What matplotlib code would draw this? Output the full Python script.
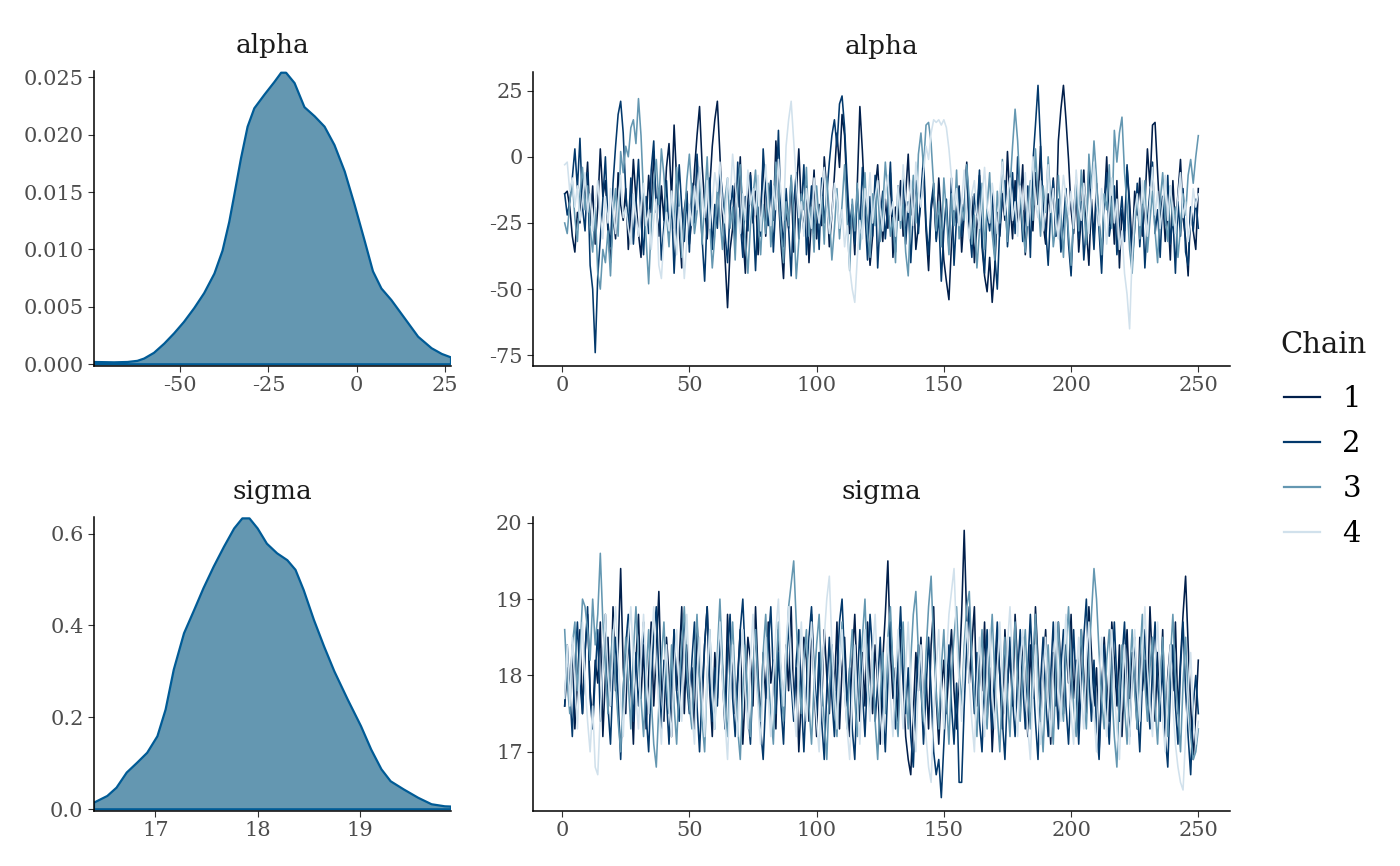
import matplotlib
matplotlib.use("Agg")
import matplotlib.pyplot as plt
from matplotlib.lines import Line2D
import numpy as np

# ---------------- data ----------------
chain_labels = ["1", "2", "3", "4"]
chain_colors = ["#011f4b", "#03396c", "#6497b1", "#d1e1ec"]

# density of alpha (x, density)
alpha_dens_x = [-74.4, -68.7, -64.9, -62.1, -60.2, -57.4, -54.5, -51.7, -48.9, -46.0,
                -43.2, -40.3, -38.0, -36.1, -34.7, -32.8, -30.9, -29.0, -26.1, -23.3,
                -21.4, -20.0, -17.6, -14.8, -11.9, -9.1, -6.3, -3.4, -0.6, 2.3,
                4.6, 7.0, 9.8, 13.6, 17.4, 21.2, 24.1, 26.7]
alpha_dens_y = [0.0002, 0.00017, 0.0002, 0.0003, 0.0005, 0.0010, 0.0018, 0.0027, 0.0037, 0.0049,
                0.0062, 0.0079, 0.0099, 0.0124, 0.0147, 0.0179, 0.0207, 0.0223, 0.0235, 0.0246,
                0.0254, 0.0254, 0.0245, 0.0224, 0.0216, 0.0207, 0.0191, 0.0168, 0.0139, 0.0107,
                0.0081, 0.0066, 0.0056, 0.0040, 0.0024, 0.0014, 0.0009, 0.0006]

sigma_dens_x = [16.40, 16.53, 16.62, 16.72, 16.82, 16.92, 17.02, 17.10, 17.18, 17.28,
                17.38, 17.47, 17.57, 17.67, 17.77, 17.85, 17.92, 18.00, 18.09, 18.19,
                18.29, 18.37, 18.45, 18.55, 18.65, 18.75, 18.88, 19.01, 19.11, 19.21,
                19.30, 19.43, 19.57, 19.70, 19.83, 19.89]
sigma_dens_y = [0.0145, 0.029, 0.047, 0.080, 0.101, 0.123, 0.159, 0.217, 0.304, 0.383,
                0.434, 0.481, 0.528, 0.571, 0.611, 0.633, 0.633, 0.611, 0.578, 0.557,
                0.542, 0.521, 0.477, 0.412, 0.354, 0.300, 0.239, 0.181, 0.130, 0.087,
                0.061, 0.043, 0.025, 0.011, 0.0065, 0.006]

alpha_chain1 = [
    -14, -13, -19, -30, -36, -21, -25, -8, -17, -2, -26, -11, -33, -19, 3, -15, -9, -28, -40, -22, -31, -6, -18, -24, -12,
    -35, -20, -1, -16, -29, -38, -14, -25, -7, -21, 2, -19, -30, -11, -24, -4, 5, -16, 12, -9, -27, -42, -20, -13, -33,
    -23, -5, 8, 19, -3, -18, -31, -12, 4, 14, 21, 1, -22, -38, -57, -35, -27, -10, -19, 0, -29, -44, -16, -6, -25,
    -13, -37, -21, -2, -30, -17, -9, -24, 6, -15, -33, -46, -20, -27, -8, -36, -14, 3, -19, -28, -11, -40, -23, -5, -31,
    -18, -26, 0, -13, -34, -22, -7, 9, -4, 16, 8, -15, -29, -20, -37, -10, 19, 2, -18, -25, -41, -30, -12, -3, -21,
    -32, -16, -27, -6, -38, -19, -24, -9, -30, -14, 1, -22, -11, -35, -26, -17, -4, -28, -43, -20, -13, -31, -8, -23, -39,
    -47, -54, -33, -18, -25, -11, -36, -22, -2, -29, -15, -40, -26, -7, -34, -45, -51, -38, -55, -42, -21, -30, -14, -24, 2,
    -17, -31, -9, -26, -19, -3, -37, -22, -12, -28, -6, -18, 4, -25, -33, -14, -21, -8, -30, 6, 18, 27, 14, -1, -20,
    -29, -12, -36, -23, -5, -27, -41, -16, -31, -10, -24, -38, -19, 0, -26, -15, -33, -9, -42, -20, -28, -4, -17, -35, -13,
    -22, -8, -30, -18, 3, -11, 12, 13, -6, -24, -15, -32, -20, -39, -9, -27, -14, -1, -23, -31, -45, -19, -28, -35, -12]

alpha_chain2 = [
    -14, -22, -17, -8, 3, -12, 7, -19, -28, -6, -41, -50, -74, -45, -31, -16, 0, -25, -34, -10, 4, 16, 21, 9, -13,
    -27, -8, -33, -18, -1, -24, -37, -15, -29, -5, 6, -21, -12, -39, -26, -9, -30, -17, -44, -23, -3, -19, -32, -14, -36,
    -10, -25, 1, -16, -31, -47, -22, -8, -35, -18, -27, -4, -14, -29, -40, -20, -11, -33, -2, -24, -38, -15, -28, -7, -21,
    -43, -19, -30, 3, -13, -26, -9, -36, -17, 10, -22, -34, -12, -27, -45, -18, -6, -31, -20, -3, -37, -24, -11, -29, -16,
    -35, -8, -25, -14, -2, 8, 14, 4, 20, 23, 11, -9, -26, -18, -33, -12, -28, -4, -21, -39, -15, -30, -7, -42, -23,
    -13, -31, -19, -2, -27, -36, -11, -24, -6, -33, -17, -40, -21, -9, -29, -14, 0, -25, -37, -18, -10, -32, -22, -47, -28,
    -16, -35, -8, -41, -23, -12, -30, -19, -3, -26, -38, -14, -22, -5, -31, -44, -20, -28, -13, -37, -50, -26, -17, -9, -34,
    -21, -6, -29, 0, -15, -32, -24, -11, -38, -2, 12, 27, 5, -18, -27, -41, -20, -9, -30, -16, -36, -25, -12, -33, -45,
    -22, -8, -31, -17, -39, -26, -4, -20, -35, -14, -28, -44, -19, -6, -30, -23, -11, -37, -25, -15, -32, -3, -21, -40, -27,
    -10, -34, -18, -42, -24, -13, -2, -29, -20, -38, -15, -26, -7, -33, -22, -44, -17, -30, -12, -36, -41, -19, -28, -16, -27]

alpha_chain3 = [
    -25, -29, -17, -9, -23, -32, -14, -4, -20, -11, -27, -36, -19, -44, -50, -35, -40, -28, -45, -22, -12, -30, 2, -6, 4,
    0, 11, 14, 5, 22, 8, -15, -31, -48, -26, -10, -1, -18, 3, -7, -22, -34, -13, -27, -4, -19, -38, -24, -9, 1,
    -14, -29, -21, -6, -33, -17, 0, -25, -42, -30, -11, -23, -35, -16, -8, -27, -19, -39, -12, -3, -20, -31, -44, -26, -15,
    -5, -24, -37, -18, -29, -10, -34, -21, -2, -13, -28, -40, -17, -26, -7, -23, -46, -32, -14, -20, -4, -30, -19, -36, -11,
    -25, -15, -33, -8, -22, -39, -27, -12, -31, -18, -3, -24, -43, -16, -28, -10, -35, -21, -6, -29, -38, -14, -26, -9, -32,
    -19, -2, -15, -30, -23, -40, -12, -27, -18, -36, -45, -20, -7, -25, 1, 9, -4, 12, 13, 5, -11, -28, -17, -34, -8,
    -21, -37, -14, -26, -5, -31, -18, -24, -3, -16, -33, -22, -42, -28, -10, -35, -19, -6, -29, -39, -13, -25, -1, -18, -32,
    -12, 4, 18, 6, -14, -27, -36, -20, -9, -24, 3, -15, -30, -11, -21, 0, -17, -34, -26, -7, -22, -38, -16, -29, -41,
    -23, -10, -28, -5, -19, -33, 1, -12, 6, -8, -25, -37, -14, -20, -3, -27, 10, -2, 9, 15, -6, -18, -35, -44, -26,
    -15, -31, -21, -9, -36, -24, -13, -28, -40, -17, -6, -23, -32, -11, -26, -19, -38, -27, -14, -22, -7, -1, -10, 0, 8]

alpha_chain4 = [
    -3, -2, -13, -8, -19, -11, -24, -16, -6, -21, -14, -28, -18, -9, -22, -31, -15, -25, -12, -20, -29, -17, -7, -23, -19,
    -27, -33, -14, -22, -30, -18, -10, -26, -20, -35, -24, -16, -41, -46, -30, -21, -28, -13, -25, -37, -19, -29, -46, -32, -18,
    -26, -11, -20, -4, -15, -23, -9, -27, -17, -6, -13, -2, -19, -25, -8, -16, 1, -10, -21, -29, -14, -24, -5, -18, -12,
    -22, -7, -28, -15, -3, -19, -26, -11, -20, -1, -14, -24, 4, 14, 21, 6, -9, -23, -17, -30, -12, -21, -27, -8, -19,
    -25, -13, -4, -18, -29, -22, -10, -16, -27, -20, -34, -26, -42, -50, -55, -38, -24, -31, -12, -19, -6, -25, -15, -9, -20,
    -28, -14, -7, -22, -17, -30, -11, -24, -3, -16, -21, -9, -26, -2, -13, -19, -6, 4, -1, 9, 14, 13, 14, 12, 14,
    11, 3, -8, -20, -12, -26, -17, -5, -23, -31, -14, -9, -21, -27, -16, -4, -19, -25, -10, -18, -29, -13, -2, -22, -15,
    -8, -24, -17, -30, -11, -20, -6, -26, -14, 0, -18, -23, -9, -28, -16, -3, -21, -12, -25, -31, -19, -7, -15, -22, -13,
    -27, -5, -18, -24, -10, -20, -29, -14, -2, -17, -26, -12, -22, -33, -19, -8, -25, -16, -35, -28, -44, -52, -65, -37, -21,
    -14, -26, -9, -19, -30, -16, -4, -22, -13, -27, -18, -7, -24, -11, -20, -29, -15, -6, -23, -17, -32, -25, -12, -19, -14]

sigma_chain1 = [
    17.6, 18.1, 17.7, 18.4, 17.3, 17.9, 18.6, 17.5, 18.3, 18.8, 17.8, 17.4, 18.2, 17.9, 18.7, 17.2, 18.0, 18.5, 17.6, 18.9, 17.8, 18.3, 19.4, 18.1, 17.5,
    18.6, 17.9, 17.1, 18.2, 18.8, 17.7, 18.4, 17.3, 18.0, 18.7, 17.6, 18.3, 19.1, 17.9, 17.4, 18.5, 18.0, 17.2, 18.6, 17.8, 18.2, 18.9, 17.5, 18.4, 17.7,
    18.1, 17.3, 18.7, 18.0, 17.6, 18.4, 18.9, 17.8, 17.2, 18.3, 17.7, 18.6, 18.1, 17.4, 18.8, 17.9, 18.3, 17.5, 18.0, 18.6, 17.1, 17.8, 18.5, 18.2, 17.6,
    18.9, 18.0, 17.4, 18.3, 17.7, 18.7, 17.9, 18.2, 17.3, 18.6, 18.0, 17.5, 18.4, 17.8, 18.9, 17.6, 18.1, 17.0, 17.7, 18.5, 18.2, 17.4, 18.8, 17.9, 17.2,
    18.3, 17.6, 18.6, 18.0, 17.5, 18.4, 17.8, 18.7, 17.3, 18.1, 18.5, 17.7, 17.2, 18.2, 18.8, 17.9, 17.4, 18.3, 17.6, 18.7, 18.0, 17.5, 18.4, 17.9, 17.1,
    18.2, 18.8, 19.5, 18.3, 17.7, 18.1, 17.4, 18.6, 17.9, 17.2, 16.9, 16.7, 17.5, 18.3, 17.8, 18.5, 17.6, 18.0, 17.3, 18.4, 18.9, 17.7, 17.1, 17.8, 18.2,
    17.5, 18.1, 18.6, 17.8, 17.3, 18.0, 18.8, 19.9, 18.7, 17.9, 18.4, 18.9, 17.6, 18.3, 17.8, 18.7, 17.4, 18.1, 17.0, 17.7, 18.5, 18.0, 17.3, 18.6, 17.9,
    18.3, 17.6, 18.8, 18.1, 17.5, 18.5, 17.9, 17.2, 18.4, 17.7, 18.9, 18.2, 17.4, 18.0, 18.6, 17.8, 17.1, 18.3, 17.6, 18.7, 18.1, 17.5, 18.4, 17.9, 18.8,
    17.7, 18.2, 17.3, 18.6, 18.0, 17.5, 18.9, 18.3, 17.6, 18.1, 17.0, 17.8, 18.5, 17.9, 17.4, 18.7, 18.2, 17.6, 18.4, 17.2, 18.0, 18.6, 17.7, 18.3, 17.9,
    17.3, 18.5, 17.8, 18.2, 17.6, 18.9, 18.1, 17.4, 18.3, 17.7, 18.6, 17.2, 18.0, 18.4, 17.8, 18.7, 17.5, 18.2, 18.8, 19.3, 18.4, 17.6, 16.9, 17.5, 18.2]

sigma_chain2 = [
    17.6, 18.4, 17.8, 17.2, 18.1, 18.7, 17.9, 17.5, 18.3, 18.9, 17.7, 17.3, 18.0, 18.6, 17.4, 18.2, 18.8, 17.6, 17.1, 18.0, 18.5, 17.7, 16.9, 17.8, 18.4,
    18.8, 17.9, 17.4, 18.3, 17.6, 18.1, 18.7, 17.5, 17.0, 17.9, 18.5, 18.9, 18.0, 17.3, 18.2, 17.7, 17.1, 18.0, 18.6, 17.8, 17.4, 18.3, 18.8, 17.9, 17.5,
    18.2, 18.7, 17.6, 17.0, 17.8, 18.4, 18.9, 17.9, 17.4, 18.1, 17.6, 18.5, 18.0, 17.3, 18.3, 18.8, 17.7, 17.2, 17.9, 18.6, 19.0, 18.2, 17.5, 17.1, 18.0,
    18.6, 17.8, 17.3, 16.9, 17.7, 18.4, 18.9, 18.0, 17.5, 18.3, 17.6, 17.1, 18.1, 18.7, 17.9, 17.4, 18.2, 18.6, 17.7, 17.0, 17.8, 18.5, 18.9, 18.1, 17.5,
    18.3, 17.4, 16.9, 17.8, 18.5, 17.7, 17.2, 18.0, 18.7, 19.0, 18.2, 17.6, 18.1, 17.3, 16.9, 17.9, 18.6, 17.8, 17.2, 18.0, 18.8, 18.3, 17.4, 17.9, 18.5,
    17.6, 17.0, 17.9, 18.7, 18.1, 17.3, 18.2, 18.9, 18.0, 17.5, 18.1, 17.2, 16.8, 17.7, 18.4, 17.9, 17.1, 17.8, 18.5, 17.8, 17.0, 16.7, 16.9, 16.4, 17.1,
    17.8, 18.4, 17.6, 17.1, 17.9, 16.6, 16.6, 17.6, 18.4, 18.9, 18.1, 17.5, 18.3, 17.4, 17.0, 17.9, 18.6, 17.8, 17.3, 18.1, 18.7, 18.0, 17.4, 16.9, 17.8,
    18.5, 17.7, 17.2, 18.0, 18.6, 17.9, 17.3, 18.1, 18.8, 18.0, 17.4, 16.9, 17.9, 18.5, 17.7, 17.2, 18.0, 18.7, 17.9, 17.3, 18.1, 18.6, 17.6, 17.1, 17.9,
    18.6, 17.8, 17.1, 17.9, 18.5, 19.0, 18.0, 17.4, 18.2, 17.3, 16.9, 17.8, 18.4, 17.6, 17.1, 18.0, 18.7, 17.9, 17.4, 18.2, 18.7, 17.7, 17.2, 18.0, 18.5,
    17.6, 17.0, 17.9, 18.6, 17.8, 17.3, 18.1, 18.7, 17.9, 17.4, 18.2, 17.2, 16.8, 17.8, 18.4, 17.6, 17.1, 18.1, 18.7, 17.8, 17.2, 16.7, 17.6, 18.0, 17.5]

sigma_chain3 = [
    18.6, 17.9, 17.5, 18.4, 18.7, 17.8, 18.3, 19.0, 18.9, 18.6, 18.2, 19.0, 18.4, 18.8, 19.6, 18.7, 18.1, 17.5, 18.2, 18.6, 17.9, 17.4, 17.0, 17.8, 18.5,
    17.9, 17.3, 18.3, 18.9, 18.2, 17.7, 17.2, 18.0, 18.6, 17.7, 17.1, 16.8, 17.6, 18.2, 18.7, 17.9, 17.5, 18.4, 17.6, 17.1, 17.9, 18.4, 18.9, 18.1, 17.6,
    17.3, 18.2, 18.8, 17.9, 17.4, 17.0, 18.0, 18.6, 17.8, 17.3, 18.3, 19.0, 18.2, 17.6, 17.2, 18.1, 18.7, 17.9, 17.3, 16.9, 17.8, 18.4, 17.6, 17.2, 18.1,
    18.6, 17.8, 17.4, 18.3, 18.8, 18.0, 17.5, 17.1, 18.0, 18.7, 17.9, 17.4, 18.2, 18.9, 19.2, 19.5, 18.7, 18.0, 17.5, 18.2, 18.6, 17.6, 17.1, 17.9, 18.4,
    18.8, 17.9, 17.4, 16.9, 17.8, 18.4, 17.6, 17.2, 18.1, 18.7, 17.8, 17.3, 18.1, 18.6, 17.7, 17.2, 18.0, 18.5, 19.0, 18.0, 17.5, 18.3, 17.4, 16.9, 17.7,
    18.3, 17.5, 18.5, 18.9, 18.1, 17.6, 17.2, 18.1, 18.7, 17.8, 17.3, 18.2, 18.8, 19.1, 18.3, 17.8, 17.4, 18.3, 18.9, 19.3, 18.4, 17.8, 17.3, 18.1, 18.6,
    17.7, 17.1, 18.0, 18.5, 18.9, 18.1, 17.6, 18.4, 18.9, 19.1, 18.2, 17.7, 17.2, 18.0, 18.6, 17.8, 17.3, 18.2, 18.8, 18.0, 17.5, 17.0, 17.9, 18.5, 17.7,
    17.2, 18.1, 18.7, 17.9, 17.4, 18.1, 18.6, 17.8, 17.3, 18.2, 18.8, 18.0, 17.5, 17.0, 17.8, 18.4, 17.6, 17.1, 18.0, 18.7, 17.8, 17.4, 18.3, 18.9, 18.1,
    17.6, 17.2, 18.1, 18.6, 17.8, 17.3, 18.2, 18.8, 19.4, 19.0, 18.3, 17.7, 17.3, 18.2, 18.6, 17.8, 17.2, 16.8, 17.8, 18.4, 17.6, 17.1, 18.0, 18.6, 17.8,
    17.3, 18.2, 18.8, 17.9, 17.4, 18.1, 18.5, 17.6, 17.1, 17.9, 18.5, 17.7, 17.2, 18.2, 18.8, 18.0, 17.5, 17.0, 17.9, 18.5, 17.7, 17.2, 16.9, 17.0, 17.3]

sigma_chain4 = [
    17.7, 18.4, 17.6, 18.5, 17.9, 17.3, 18.1, 18.7, 17.9, 17.4, 17.0, 17.6, 16.8, 16.7, 17.5, 18.2, 18.8, 18.0, 17.6, 18.5, 18.9, 18.2, 17.7, 17.2, 18.0,
    18.5, 18.9, 18.2, 17.7, 17.3, 18.2, 18.8, 18.0, 17.5, 18.3, 18.9, 18.1, 17.6, 17.1, 17.9, 18.4, 17.6, 17.2, 18.1, 18.6, 17.8, 17.4, 18.3, 18.8, 18.0,
    17.5, 17.1, 18.0, 18.5, 17.7, 17.2, 18.0, 18.6, 17.8, 17.3, 18.1, 18.7, 17.9, 17.4, 16.9, 17.8, 18.4, 17.6, 17.2, 18.1, 18.6, 17.8, 17.3, 18.2, 18.8,
    18.0, 17.6, 17.1, 17.9, 18.5, 17.7, 17.2, 18.0, 18.6, 19.0, 18.1, 17.6, 18.4, 18.9, 18.1, 17.6, 17.2, 18.1, 18.7, 17.9, 17.4, 18.2, 18.7, 17.9, 17.4,
    17.0, 17.9, 18.5, 19.0, 19.3, 18.4, 17.8, 17.3, 18.1, 18.6, 17.8, 17.3, 16.9, 17.8, 18.4, 17.6, 17.1, 18.0, 18.6, 17.8, 17.4, 18.3, 18.8, 18.0, 17.5,
    17.1, 18.0, 18.5, 17.7, 17.2, 18.0, 18.6, 17.8, 17.3, 18.1, 18.7, 17.9, 17.4, 17.0, 17.9, 18.4, 17.6, 17.2, 16.8, 16.6, 17.5, 18.1, 18.6, 17.8, 17.3,
    18.2, 18.8, 19.1, 19.4, 18.5, 17.9, 17.4, 18.2, 18.7, 17.9, 17.4, 17.0, 17.9, 18.5, 17.7, 17.2, 18.0, 18.6, 17.8, 17.3, 18.1, 18.7, 17.9, 17.5, 18.4,
    18.9, 18.1, 17.6, 17.2, 18.1, 18.6, 17.8, 17.3, 16.9, 17.8, 18.4, 17.6, 17.1, 18.0, 18.5, 17.7, 17.2, 18.1, 18.7, 17.9, 17.4, 18.2, 18.8, 18.0, 17.5,
    17.1, 18.0, 18.5, 17.7, 17.3, 18.2, 18.7, 17.9, 17.5, 17.0, 17.9, 18.5, 17.7, 17.2, 18.0, 18.6, 17.8, 17.3, 16.9, 17.8, 18.4, 17.6, 17.1, 18.0, 18.6,
    17.8, 17.4, 18.3, 18.9, 18.1, 17.6, 17.2, 18.1, 18.7, 17.9, 17.4, 17.0, 17.9, 18.4, 17.6, 17.1, 16.8, 16.6, 16.5, 17.2, 17.8, 18.3, 17.5, 17.1, 17.4]

alpha_chains = [alpha_chain1, alpha_chain2, alpha_chain3, alpha_chain4]
sigma_chains = [sigma_chain1, sigma_chain2, sigma_chain3, sigma_chain4]

alpha_dens_xticks = [-50, -25, 0, 25]
alpha_dens_yticks = [0.000, 0.005, 0.010, 0.015, 0.020, 0.025]
sigma_dens_xticks = [17, 18, 19]
sigma_dens_yticks = [0.0, 0.2, 0.4, 0.6]
trace_xticks = [0, 50, 100, 150, 200, 250]
alpha_trace_yticks = [-75, -50, -25, 0, 25]
sigma_trace_yticks = [17, 18, 19, 20]

# ---------------- style ----------------
plt.rcParams["font.family"] = ["DejaVu Serif"]
plt.rcParams["axes.unicode_minus"] = False

W, H = 1400, 866
fig = plt.figure(figsize=(W / 100, H / 100), dpi=100)
fig.patch.set_facecolor("white")


def rect(l, t, r, b):
    return [l / W, 1 - b / H, (r - l) / W, (b - t) / H]


def style(ax, title):
    for s in ["top", "right"]:
        ax.spines[s].set_visible(False)
    for s in ["left", "bottom"]:
        ax.spines[s].set_linewidth(1.1)
        ax.spines[s].set_color("black")
    ax.tick_params(axis="both", which="major", length=4.5, width=0.8,
                   color="#333333", labelcolor="#4d4d4d", labelsize=15, pad=3)
    ax.set_title(title, fontsize=19, color="#1a1a1a", pad=13)


fill_col = "#6497b1"
line_col = "#005b96"

# alpha density
ax = fig.add_axes(rect(94, 71, 451, 366))
xs = list(alpha_dens_x) + [alpha_dens_x[-1], alpha_dens_x[0]]
ys = list(alpha_dens_y) + [0, 0]
ax.fill(xs, ys, facecolor=fill_col, edgecolor=line_col, linewidth=1.6,
        closed=True, joinstyle="round")
ax.set_xlim(alpha_dens_x[0], alpha_dens_x[-1])
ax.set_ylim(-0.00015, 0.02555)
ax.set_xticks(alpha_dens_xticks)
ax.set_yticks(alpha_dens_yticks)
ax.set_yticklabels([f"{v:.3f}" for v in alpha_dens_yticks])
style(ax, "alpha")

# sigma density
ax = fig.add_axes(rect(94, 517, 451, 811))
xs = list(sigma_dens_x) + [sigma_dens_x[-1], sigma_dens_x[0]]
ys = list(sigma_dens_y) + [0, 0]
ax.fill(xs, ys, facecolor=fill_col, edgecolor=line_col, linewidth=1.6,
        closed=True, joinstyle="round")
ax.set_xlim(sigma_dens_x[0], sigma_dens_x[-1])
ax.set_ylim(-0.0037, 0.636)
ax.set_xticks(sigma_dens_xticks)
ax.set_yticks(sigma_dens_yticks)
ax.set_yticklabels([f"{v:.1f}" for v in sigma_dens_yticks])
style(ax, "sigma")

# traces
for chains, box, yt, title in [
    (alpha_chains, (533, 72, 1230, 366), alpha_trace_yticks, "alpha"),
    (sigma_chains, (533, 517, 1230, 811), sigma_trace_yticks, "sigma"),
]:
    ax = fig.add_axes(rect(*box))
    for ch, col in zip(chains, chain_colors):
        it = np.arange(1, len(ch) + 1)
        ax.plot(it, ch, color=col, linewidth=1.15)
    ax.margins(x=0.05, y=0.05)
    ax.set_xticks(trace_xticks)
    ax.set_yticks(yt)
    style(ax, title)

# legend
fig.text(1280 / W, 1 - 353 / H, "Chain", ha="left", va="baseline",
         fontsize=21, color="#1a1a1a")
handles = [Line2D([0], [0], color=c, linewidth=1.6) for c in chain_colors]
leg = fig.legend(handles, chain_labels, loc="upper left",
                 bbox_to_anchor=(1284 / W, 1 - 385 / H), frameon=False,
                 fontsize=21, handlelength=1.25, borderpad=0, borderaxespad=0,
                 handletextpad=0.75, labelspacing=0.58)

fig.savefig("out.png", dpi=100, facecolor="white")
